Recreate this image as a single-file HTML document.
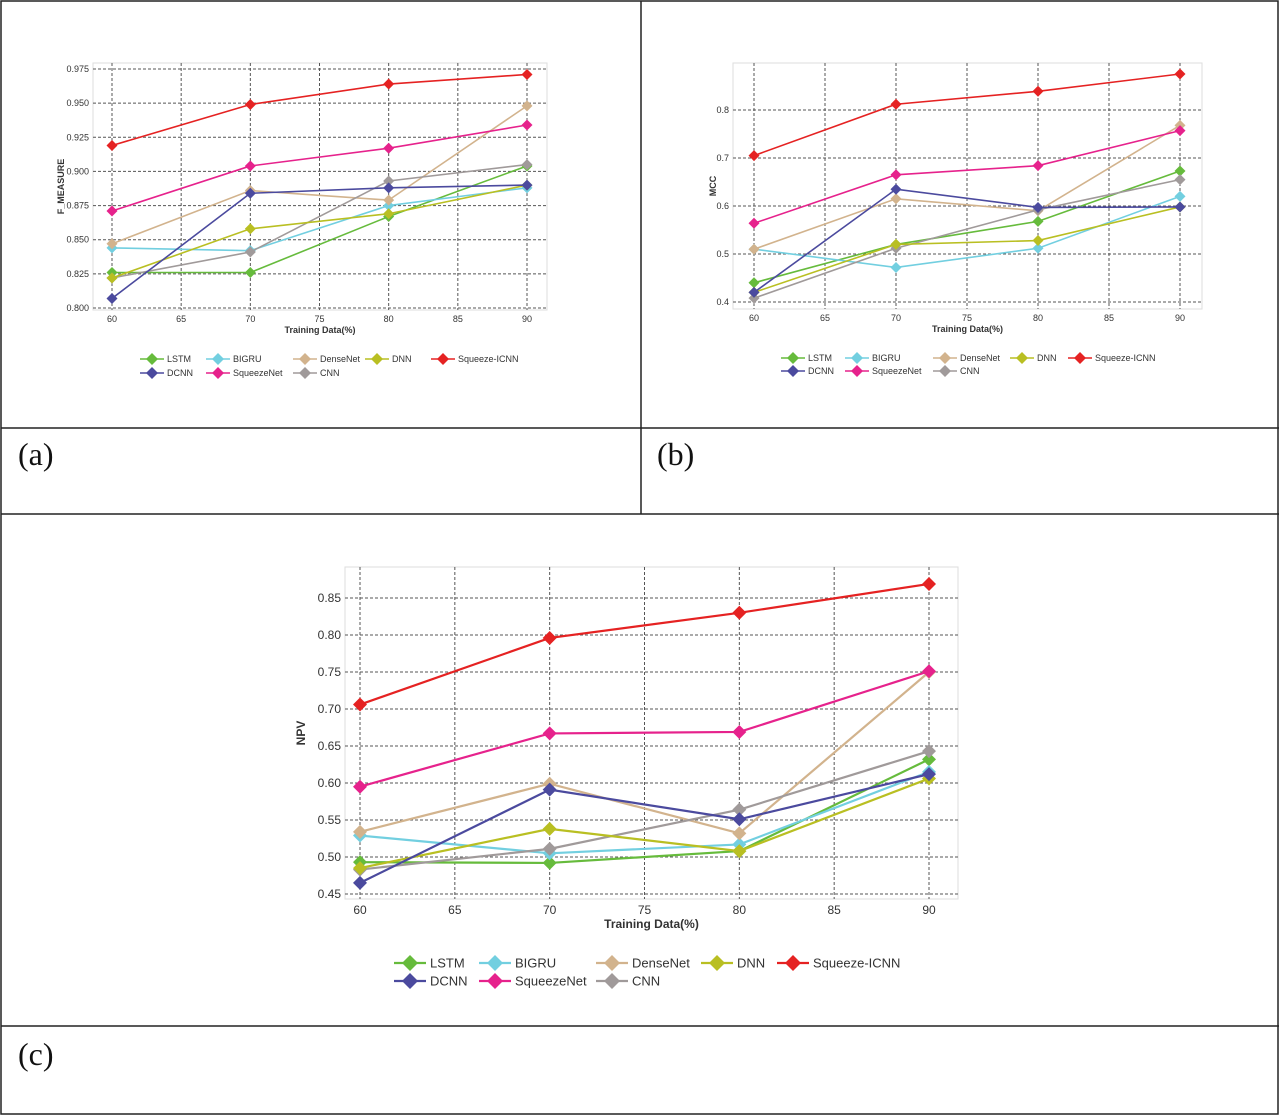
<!DOCTYPE html>
<html><head><meta charset="utf-8"><style>
body{margin:0;background:#fff;width:1280px;height:1116px;overflow:hidden;font-family:"Liberation Sans",sans-serif}
.cap{position:absolute;font-family:"Liberation Serif",serif;font-size:32px;color:#111}
</style></head><body>
<svg id="s" width="1280" height="1116" style="position:absolute;left:0;top:0">
<g stroke="#222" stroke-width="1.5" fill="none">
<rect x="1" y="1" width="1277" height="1113"/>
<line x1="641" y1="1" x2="641" y2="514"/>
<line x1="1" y1="428" x2="1279" y2="428"/>
<line x1="1" y1="514" x2="1279" y2="514"/>
<line x1="1" y1="1026" x2="1279" y2="1026"/>
</g>
</svg>
<div class="cap" style="left:18px;top:436px">(a)</div>
<div class="cap" style="left:657px;top:436px">(b)</div>
<div class="cap" style="left:18px;top:1036px">(c)</div>
<script>
const xCats=[60,70,80,90];
const seriesNames=["LSTM","DCNN","BIGRU","SqueezeNet","DenseNet","CNN","DNN","Squeeze-ICNN"];
const colors=["#66bb3c","#4b4a9e","#72cfe0","#e6228c","#d2b38d","#a09a9a","#b9bf22","#e52222"];
const xTicks=[60,65,70,75,80,85,90];
const fLSTM=[.826,.826,.867,.904],fDCNN=[.807,.884,.888,.890],fBIGRU=[.844,.842,.875,.888],fSq=[.871,.904,.917,.934],fDense=[.847,.886,.879,.948],fCNN=[.822,.841,.893,.905],fDNN=[.822,.858,.869,.890],fSI=[.919,.949,.964,.971];
const fTicks=[0.800,0.825,0.850,0.875,0.900,0.925,0.950,0.975];
const mLSTM=[.44,.52,.568,.673],mDCNN=[.42,.635,.597,.598],mBIGRU=[.51,.472,.512,.62],mSq=[.564,.665,.684,.757],mDense=[.51,.615,.59,.768],mCNN=[.408,.512,.592,.655],mDNN=[.42,.52,.528,.598],mSI=[.705,.812,.839,.875];
const mTicks=[0.4,0.5,0.6,0.7,0.8];
const nLSTM=[.493,.492,.508,.632],nDCNN=[.465,.591,.551,.612],nBIGRU=[.529,.505,.517,.615],nSq=[.595,.667,.669,.751],nDense=[.534,.599,.532,.75],nCNN=[.483,.511,.564,.643],nDNN=[.485,.538,.508,.606],nSI=[.706,.796,.830,.869];
const nTicks=[0.45,0.50,0.55,0.60,0.65,0.70,0.75,0.80,0.85];
const NS="http://www.w3.org/2000/svg",svg=document.getElementById('s');
function mk(t,a,p){const e=document.createElementNS(NS,t);for(const k in a)e.setAttribute(k,a[k]);(p||svg).appendChild(e);return e;}
function chart(c){
 const g=mk('g',{});
 
 
 mk('rect',{x:c.L,y:c.T,width:c.R-c.L,height:c.B-c.T,fill:'#fff',stroke:'#ddd'},g);
 const xs=v=>c.x60+(v-60)*(c.x90-c.x60)/30;
 const ys=v=>c.yA+(v-c.vA)*(c.yB-c.yA)/(c.vB-c.vA);
 xTicks.forEach(t=>{mk('line',{x1:xs(t),x2:xs(t),y1:c.T,y2:c.B,stroke:'#555','stroke-dasharray':'3,2','stroke-width':1},g);
  const tx=mk('text',{x:xs(t),y:c.B+c.fs+3,'text-anchor':'middle','font-size':c.fs,fill:'#333'},g);tx.textContent=t;});
 c.ticks.forEach(t=>{mk('line',{x1:c.L,x2:c.R,y1:ys(t),y2:ys(t),stroke:'#555','stroke-dasharray':'3,2','stroke-width':1},g);
  const tx=mk('text',{x:c.L-4,y:ys(t)+c.fs/3,'text-anchor':'end','font-size':c.fs,fill:'#333'},g);tx.textContent=t.toFixed(c.dec);});
 const xl=mk('text',{x:(c.L+c.R)/2,y:c.B+c.fs*2+5,'text-anchor':'middle','font-size':c.fs,'font-weight':'bold',fill:'#333'},g);xl.textContent='Training Data(%)';
 
 const yl=mk('text',{x:0,y:0,transform:`translate(${c.L-c.ylo},${(c.T+c.B)/2}) rotate(-90)`,'text-anchor':'middle','font-size':c.fs,'font-weight':'bold',fill:'#333'},g);yl.textContent=c.ylabel;
 
 const order=[0,2,4,5,6,1,3,7];
 order.forEach(i=>{const d=c.data[i];
  const pl=mk('polyline',{points:d.map((v,j)=>xs(xCats[j])+','+ys(v)).join(' '),fill:'none',stroke:colors[i],'stroke-width':c.lw},g);
  
  
  d.forEach((v,j)=>{const X=xs(xCats[j]),Y=ys(v),r=c.ms;
   const m=mk('polygon',{points:`${X},${Y-r} ${X+r},${Y} ${X},${Y+r} ${X-r},${Y}`,fill:colors[i]},g);
   
   });
 });
 const rows=[[0,2,4,6,7],[1,3,5]];
 rows.forEach((r,ri)=>r.forEach((i,ci)=>{const X=c.lx[ci],Y=c.ly+ri*c.lrow,r2=c.lms;
  mk('line',{x1:X-r2*2,x2:X+r2*2,y1:Y,y2:Y,stroke:colors[i],'stroke-width':c.lw},g);
  mk('polygon',{points:`${X},${Y-r2} ${X+r2},${Y} ${X},${Y+r2} ${X-r2},${Y}`,fill:colors[i]},g);
  const t=mk('text',{x:X+r2*2.5,y:Y+c.lfs*0.36,'font-size':c.lfs,fill:'#333'},g);t.textContent=seriesNames[i];
  
  
 }));
}
chart({name:'chart-f-measure',L:93,R:547,T:63,B:310,x60:112,x90:527,vA:0.975,yA:69,vB:0.8,yB:308,ticks:fTicks,dec:3,fs:9,lfs:9,ylabel:'F_MEASURE',ylo:29,lw:1.6,ms:5.5,lms:6,
 data:[fLSTM,fDCNN,fBIGRU,fSq,fDense,fCNN,fDNN,fSI],lx:[152,218,305,377,443],ly:359,lrow:14});
chart({name:'chart-mcc',L:733,R:1202,T:63,B:309,x60:754,x90:1180,vA:0.8,yA:110,vB:0.4,yB:302,ticks:mTicks,dec:1,fs:9,lfs:9,ylabel:'MCC',ylo:17,lw:1.6,ms:5.5,lms:6,
 data:[mLSTM,mDCNN,mBIGRU,mSq,mDense,mCNN,mDNN,mSI],lx:[793,857,945,1022,1080],ly:358,lrow:13});
chart({name:'chart-npv',L:345,R:958,T:567,B:899,x60:360,x90:929,vA:0.85,yA:598,vB:0.45,yB:894,ticks:nTicks,dec:2,fs:12,lfs:13,ylabel:'NPV',ylo:40,lw:2.2,ms:7,lms:8,
 data:[nLSTM,nDCNN,nBIGRU,nSq,nDense,nCNN,nDNN,nSI],lx:[410,495,612,717,793],ly:963,lrow:18});
</script>
</body></html>
